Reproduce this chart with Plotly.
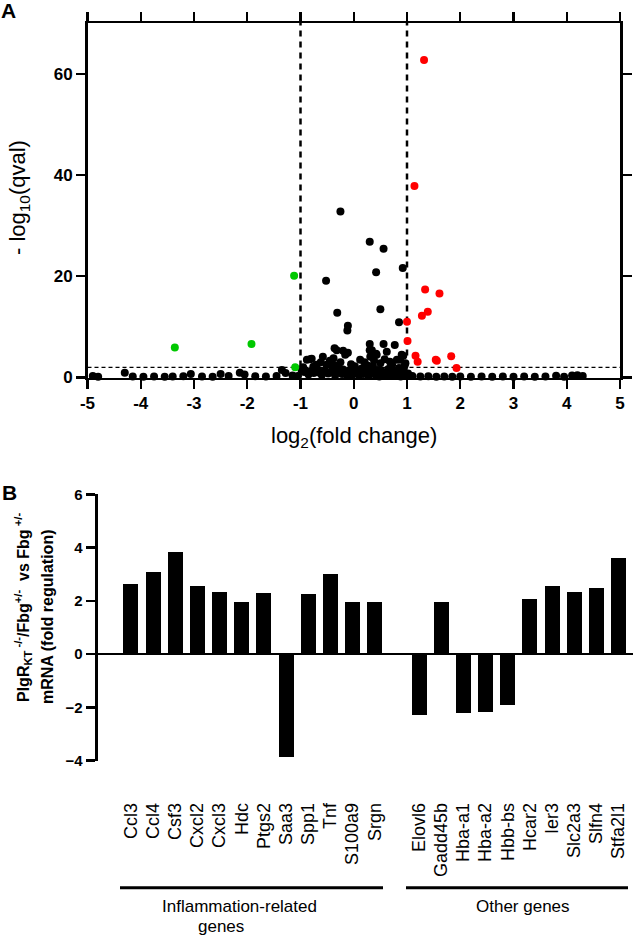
import plotly.graph_objects as go

# ---------------- Panel A data (volcano) ----------------
FC_THRESH = 1.0
Q_THRESH = 2.0

black_x = [-0.25, 0.30, 0.56, 0.42, 0.92, -0.52, -0.31, 0.50, -0.11, -0.12, 0.85,
           0.30, 0.56, 0.77, -0.36, -0.20, -0.11, 0.30, 0.62, 0.42, -0.58, -0.82, 0.12, 0.87, 0.93,
           -0.32, -0.16, -0.38, 0.34, 0.31, 0.43, 0.68, 0.81, 0.90, -0.88, -0.79, -0.76, -0.70,
           -0.51, -0.44, -0.62, -0.45, -0.25, -0.05, 0.02, 0.20, 0.25, 0.38, 0.50, 0.58, 0.72,
           0.95, 0.97, -0.95, -0.98, -0.90, -0.68, -0.55, -0.40, -0.30, -0.20, -0.10, 0.05, 0.15,
           0.22, 0.35, 0.45, 0.55, 0.65, 0.75, 0.85, 0.92, 1.02, -0.85, -0.75, -0.60, -0.48, -0.35,
           -0.22, -0.12, -0.02, 0.10, 0.18, 0.28, 0.40, 0.48, 0.60, 0.70, 0.80, 0.88, 0.98,
           -0.93, -0.80, -0.66, -0.53, -0.42, -0.28, -0.16, -0.06, 0.08, 0.24, 0.33, 0.52, 0.66,
           0.78, 0.94, -0.72, -0.36, 0.00, 0.36, 0.70,
           -4.90, -4.80, -4.30, -4.15, -3.95, -3.75, -3.55, -3.40, -3.20, -3.06, -2.85, -2.65,
           -2.50, -2.35, -2.14, -2.05, -1.85, -1.65, -1.45, -1.35, -1.28, -1.15, -1.05,
           1.10, 1.25, 1.40, 1.55, 1.70, 1.85, 2.00, 2.20, 2.40, 2.60, 2.80, 3.00, 3.20, 3.40,
           3.60, 3.80, 3.95, 4.10, 4.20, 4.30]
black_y = [32.8, 26.8, 25.4, 20.8, 21.6, 19.1, 12.8, 13.5, 10.2, 9.3, 10.9,
           6.6, 6.6, 6.4, 5.8, 5.3, 4.9, 5.4, 5.1, 4.7, 4.1, 3.6, 3.5, 3.5, 4.3,
           5.4, 4.5, 3.8, 5.4, 4.1, 4.5, 3.1, 3.5, 4.5, 3.5, 3.7, 2.1, 2.5,
           2.5, 2.8, 3.0, 3.3, 3.0, 2.6, 2.2, 3.0, 2.4, 3.4, 2.8, 3.6, 2.5,
           2.2, 2.8, 2.0, 1.5, 1.2, 1.6, 1.4, 1.8, 2.0, 1.6, 1.3, 1.0, 1.8,
           1.2, 1.9, 1.5, 1.0, 1.7, 1.3, 1.9, 1.0, 0.8, 0.6, 0.9, 0.5, 0.8, 0.4,
           0.7, 0.3, 0.6, 0.4, 0.7, 0.3, 0.6, 0.2, 0.5, 0.3, 0.6, 0.2, 0.4,
           1.1, 1.3, 1.0, 1.2, 1.1, 1.3, 1.0, 1.2, 1.3, 1.0, 1.2, 1.3, 1.1,
           1.2, 1.3, 2.2, 2.4, 2.0, 2.3, 2.1,
           0.30, 0.15, 0.95, 0.20, 0.15, 0.20, 0.15, 0.20, 0.25, 0.70, 0.20, 0.15,
           0.70, 0.30, 0.95, 0.60, 0.25, 0.20, 0.30, 1.50, 0.90, 0.40, 0.30,
           0.30, 0.20, 0.25, 0.15, 0.20, 0.15, 0.20, 0.15, 0.20, 0.15, 0.20, 0.15, 0.20, 0.15,
           0.20, 0.35, 0.15, 0.40, 0.45, 0.30]

green_x = [-3.36, -1.92, -1.12, -1.10]
green_y = [5.9, 6.6, 20.1, 2.0]

red_x = [1.32, 1.14, 1.34, 1.61, 1.39, 1.28, 1.00, 1.01, 1.16, 1.20, 1.54, 1.56, 1.83, 1.93]
red_y = [62.7, 37.8, 17.4, 16.6, 13.0, 12.2, 11.0, 7.2, 4.3, 3.1, 3.5, 3.3, 4.2, 1.9]

volcano_xticks = [-5, -4, -3, -2, -1, 0, 1, 2, 3, 4, 5]
volcano_yticks = [0, 20, 40, 60]

# ---------------- Panel B data (bars) ----------------
inflam_genes = ["Ccl3", "Ccl4", "Csf3", "Cxcl2", "Cxcl3", "Hdc", "Ptgs2", "Saa3",
                "Spp1", "Tnf", "S100a9", "Srgn"]
inflam_vals = [2.65, 3.09, 3.85, 2.54, 2.32, 1.94, 2.28, -3.86, 2.26, 2.99, 1.94, 1.94]
other_genes = ["Elovl6", "Gadd45b", "Hba-a1", "Hba-a2", "Hbb-bs", "Hcar2", "Ier3",
               "Slc2a3", "Slfn4", "Stfa2l1"]
other_vals = [-2.27, 1.94, -2.22, -2.18, -1.92, 2.07, 2.57, 2.35, 2.47, 3.59]
bar_yticks = [-4, -2, 0, 2, 4, 6]

FONT = "Liberation Sans, Arial, Helvetica, sans-serif"
W, H = 634, 935

def px(xp):
    return xp / W

def py(yp):
    return 1 - yp / H

# category slot positions (one empty slot between groups)
pos_inflam = list(range(len(inflam_genes)))
pos_other = [len(inflam_genes) + 1 + i for i in range(len(other_genes))]

fig = go.Figure()

# threshold lines
fig.add_trace(go.Scatter(x=[-FC_THRESH, -FC_THRESH], y=[0, 70], mode="lines",
                         line=dict(color="black", width=2.5, dash="6px,5px"),
                         xaxis="x", yaxis="y", hoverinfo="skip", showlegend=False))
fig.add_trace(go.Scatter(x=[FC_THRESH, FC_THRESH], y=[0, 70], mode="lines",
                         line=dict(color="black", width=2.5, dash="6px,5px"),
                         xaxis="x", yaxis="y", hoverinfo="skip", showlegend=False))
fig.add_trace(go.Scatter(x=[-5, 5], y=[Q_THRESH, Q_THRESH], mode="lines",
                         line=dict(color="black", width=1.2, dash="4px,3px"),
                         xaxis="x", yaxis="y", hoverinfo="skip", showlegend=False))

mk = dict(size=8, line=dict(width=0))
fig.add_trace(go.Scatter(x=black_x, y=black_y, mode="markers", cliponaxis=False,
                         marker=dict(color="black", **mk), xaxis="x", yaxis="y", showlegend=False))
fig.add_trace(go.Scatter(x=green_x, y=green_y, mode="markers", cliponaxis=False,
                         marker=dict(color="#00c800", **mk), xaxis="x", yaxis="y", showlegend=False))
fig.add_trace(go.Scatter(x=red_x, y=red_y, mode="markers", cliponaxis=False,
                         marker=dict(color="#ff0000", **mk), xaxis="x", yaxis="y", showlegend=False))

# bars
fig.add_trace(go.Bar(x=pos_inflam + pos_other, y=inflam_vals + other_vals,
                     marker=dict(color="black", line=dict(width=0)), width=0.68,
                     xaxis="x2", yaxis="y2", showlegend=False))

tick_bold = dict(family=FONT, size=17, color="black", weight="bold")

fig.update_layout(
    width=W, height=H, margin=dict(l=0, r=0, t=0, b=0, autoexpand=False),
    paper_bgcolor="white", plot_bgcolor="white",
    font=dict(family=FONT, color="black"),
    xaxis=dict(domain=[px(87.5), px(620)], range=[-5, 5], anchor="y",
               tickvals=volcano_xticks, ticktext=[str(v) for v in volcano_xticks],
               showline=True, linecolor="black", linewidth=2.5, mirror="ticks",
               ticks="outside", ticklen=9, tickwidth=2.2, tickcolor="black",
               showgrid=False, zeroline=False, tickfont=tick_bold, automargin=False),
    yaxis=dict(domain=[py(377.5), py(23)], range=[0, 70], anchor="x",
               tickvals=volcano_yticks,
               showline=True, linecolor="black", linewidth=2.5, mirror="ticks",
               ticks="outside", ticklen=9, tickwidth=2.2, tickcolor="black",
               showgrid=False, zeroline=False, tickfont=tick_bold, automargin=False),
    xaxis2=dict(domain=[px(97.7), px(633)], range=[-1.5, 22.65], anchor="y2",
                tickvals=pos_inflam + pos_other, ticktext=inflam_genes + other_genes,
                tickangle=-90, showline=False, showgrid=False, zeroline=False,
                ticks="outside", ticklen=34, tickcolor="rgba(0,0,0,0)",
                tickfont=dict(family=FONT, size=18, color="black"), automargin=False),
    yaxis2=dict(domain=[py(760.7), py(494.3)], range=[-4, 6], anchor="x2",
                tickvals=bar_yticks,
                showline=True, linecolor="black", linewidth=3,
                ticks="outside", ticklen=9, tickwidth=2.5, tickcolor="black",
                showgrid=False, zeroline=True, zerolinecolor="black", zerolinewidth=2.5,
                tickfont=dict(family=FONT, size=15, color="black", weight="bold"),
                automargin=False),
    bargap=0,
)

annotations = [
    dict(text="<b>A</b>", x=px(8), y=py(11), font=dict(size=21)),
    dict(text="<b>B</b>", x=px(9.5), y=py(492), font=dict(size=21)),
    dict(text="log<sub>2</sub>(fold change)", x=px(353.7), y=py(437), font=dict(size=22)),
    dict(text="- log<sub>10</sub>(qval)", x=px(19), y=py(198), textangle=-90, font=dict(size=22)),
    dict(text="<b>PIgR<sub>KT</sub><sup> -/-</sup>/Fbg<sup>+/-</sup>  vs Fbg<sup> +/-</sup></b>",
         x=px(23), y=py(608), textangle=-90, font=dict(size=16)),
    dict(text="<b>mRNA (fold regulation)</b>",
         x=px(47), y=py(617), textangle=-90, font=dict(size=16)),
    dict(text="Inflammation-related", x=px(239), y=py(906), font=dict(size=17)),
    dict(text="genes", x=px(221), y=py(926), font=dict(size=17)),
    dict(text="Other genes", x=px(523), y=py(906), font=dict(size=17)),
]
for a in annotations:
    a.update(xref="paper", yref="paper", showarrow=False, xanchor="center", yanchor="middle")
    a["font"].update(family=FONT, color="black")
fig.update_layout(annotations=annotations)

fig.update_layout(shapes=[
    dict(type="line", xref="paper", yref="paper", x0=px(120), x1=px(383), y0=py(887.7), y1=py(887.7),
         line=dict(color="black", width=3)),
    dict(type="line", xref="paper", yref="paper", x0=px(406), x1=px(628), y0=py(887.7), y1=py(887.7),
         line=dict(color="black", width=3)),
])

fig.write_html("out.html", config={"displayModeBar": False, "staticPlot": True},
               post_script="document.body.style.margin='0';document.body.style.overflow='hidden';")
